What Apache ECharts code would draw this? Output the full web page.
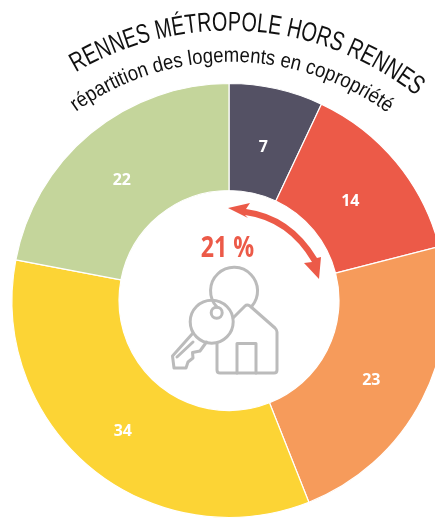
<!DOCTYPE html>
<html>
<head>
<meta charset="utf-8">
<script src="https://cdn.jsdelivr.net/npm/echarts@6/dist/echarts.min.js"></script>
<style>
html, body { margin: 0; padding: 0; background: #fff; }
#chart { width: 435px; height: 520px; }
</style>
</head>
<body>
<div id="chart"></div>
<script>
var categories = ['a', 'b', 'c', 'd', 'e'];
var values = [7, 14, 23, 34, 22];
var colors = ['#545164', '#ec5a48', '#f69b5b', '#fcd435', '#c4d59b'];
var labelOffsets = [[-2, 9], [-7, 7], [-6, 4], [0, 3], [-1, 8]];
var title = 'RENNES MÉTROPOLE HORS RENNES';
var subtitle = 'répartition des logements en copropriété';
var centerText = '21 %';

var ctx = document.createElement('canvas').getContext('2d');

// curved text: one rotated letter per element, squeezed to fit between two angles
// r is the baseline radius, letters are placed by their middle so it's pushed out a bit
function curvedText(text, size, cx, cy, r, startAngle, endAngle) {
    var out = [];
    var font = size + 'px "Liberation Sans"';
    ctx.font = font;
    var scaleX = r * (endAngle - startAngle) / ctx.measureText(text).width;
    var rMid = r + size * 0.33;
    var pos = 0;
    for (var i = 0; i < text.length; i++) {
        var w = ctx.measureText(text[i]).width * scaleX;
        var a = startAngle + (pos + w / 2) / r;
        out.push({
            type: 'text',
            x: cx + rMid * Math.sin(a),
            y: cy - rMid * Math.cos(a),
            rotation: -a,
            scaleX: scaleX,
            style: { text: text[i], font: font, fill: '#111', align: 'center', verticalAlign: 'middle' }
        });
        pos += w;
    }
    return out;
}

var iconLine = { stroke: '#bbbbbb', lineWidth: 3, fill: null, lineJoin: 'round', lineCap: 'round' };
var iconPaths = [
    'M217 307 A23.5 23.5 0 1 1 252 306',
    'M233 318 L245 306 Q247 304 250 306 L275 328 Q277 330 277 332 L277 370 Q277 373 274 373 L220 373 Q217 373 217 370 L217 343',
    'M237 373 L237 343.5 L256 343.5 L256 373',
    'M193 333 L172.5 356 L174 368 L186 368 L188 362 L193 358 L192.5 352.5 L200 351 L206.5 342',
    'M177 357 L193 342'
];
var arrowPath = 'M228 208 L250 203 L246 209 Q291 215 317 258 L321 257 L319 279 L304 263 L312 262 Q288 221 245 215 L248 218 Z';

function renderOverlay() {
    var children = [{ type: 'path', shape: { pathData: arrowPath }, style: { fill: '#ec5a48' } }];
    iconPaths.forEach(function (p) {
        children.push({ type: 'path', shape: { pathData: p }, style: iconLine });
    });
    children.push({ type: 'circle', shape: { cx: 211.7, cy: 321.7, r: 21.5 }, style: iconLine });
    children.push({ type: 'circle', shape: { cx: 216.7, cy: 312.7, r: 5.5 }, style: iconLine });
    children.push({
        type: 'text',
        x: 227.5,
        y: 249,
        scaleX: 0.8,
        style: { text: centerText, font: 'bold 29px "Open Sans"', fill: '#ec5a48', align: 'center', verticalAlign: 'middle' }
    });
    return { type: 'group', children: children };
}

var myChart = echarts.init(document.getElementById('chart'));

var option = {
    animation: false,
    backgroundColor: '#fff',
    series: [
        {
            type: 'pie',
            center: [229, 300.5],
            radius: [110, 217],
            startAngle: 90,
            clockwise: true,
            silent: true,
            itemStyle: { borderColor: '#fff', borderWidth: 1.2 },
            label: {
                position: 'inside',
                formatter: '{c}',
                color: '#fff',
                fontFamily: 'Open Sans',
                fontWeight: 'bold',
                fontSize: 16
            },
            labelLine: { show: false },
            data: categories.map(function (c, i) {
                return {
                    name: c,
                    value: values[i],
                    itemStyle: { color: colors[i] },
                    label: { offset: labelOffsets[i] }
                };
            })
        },
        {
            type: 'custom',
            coordinateSystem: 'none',
            silent: true,
            data: [0],
            renderItem: renderOverlay
        }
    ],
    graphic: [].concat(
        curvedText(title, 27, 229, 332, 300, -0.533, 0.67),
        curvedText(subtitle, 21, 231, 328, 265, -0.622, 0.63)
    )
};

myChart.setOption(option);
</script>
</body>
</html>
